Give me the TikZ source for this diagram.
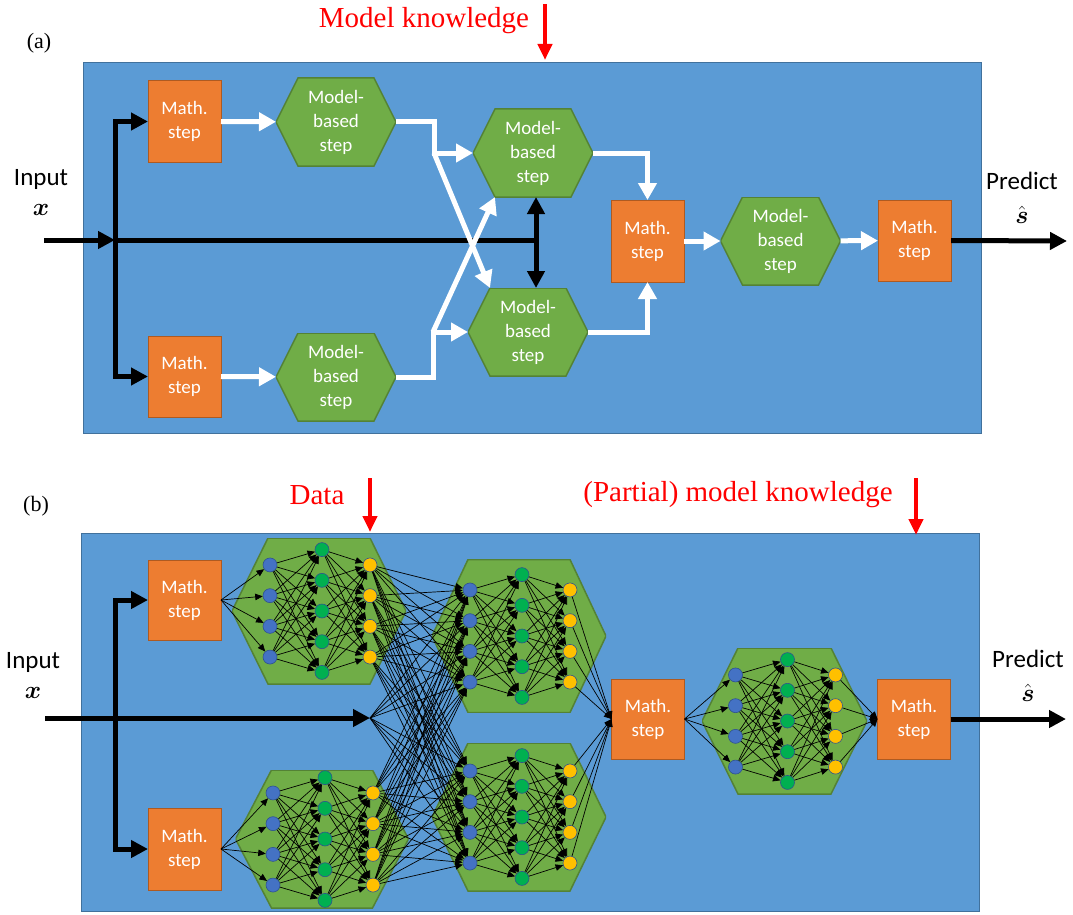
\documentclass[tikz,border=0pt]{standalone}
\usepackage{fontspec}
\setmainfont{Liberation Serif}
\newfontfamily\calibri{Carlito}
\usepackage{amsmath}
\usetikzlibrary{arrows.meta,calc}

\definecolor{panelblue}{HTML}{5B9BD5}
\definecolor{panelline}{HTML}{41719C}
\definecolor{mathorange}{HTML}{ED7D31}
\definecolor{mathline}{HTML}{AE5A21}
\definecolor{hexgreen}{HTML}{70AD47}
\definecolor{hexline}{HTML}{548235}
\definecolor{neuronblue}{HTML}{4472C4}
\definecolor{neurongreen}{HTML}{00B050}
\definecolor{neuronyellow}{HTML}{FFC000}
\definecolor{neuronline}{HTML}{2F528F}

\tikzset{
  panel/.style={fill=panelblue, draw=panelline, line width=0.8pt},
  mathstep/.style={rectangle, fill=mathorange, draw=mathline, line width=1pt,
    minimum width=73pt, minimum height=81pt, inner sep=0pt, outer sep=0pt,
    text=white, align=center, font=\calibri\fontsize{19}{24}\selectfont},
  hexfill/.style={path picture={
    \path[fill=hexgreen, draw=hexline, line width=1.5pt]
      ([xshift=#1]path picture bounding box.north west)
      -- ([xshift=-#1]path picture bounding box.north east)
      -- (path picture bounding box.east)
      -- ([xshift=-#1]path picture bounding box.south east)
      -- ([xshift=#1]path picture bounding box.south west)
      -- (path picture bounding box.west) -- cycle;}},
  modelstep/.style={hexfill=22pt, minimum width=120pt, minimum height=88pt,
    inner sep=0pt, outer sep=0pt, text=white, align=center,
    font=\calibri\fontsize{19}{24}\selectfont},
  nnhex/.style={hexfill=36pt, inner sep=0pt, outer sep=0pt},
  neuron/.style={circle, minimum size=14pt, inner sep=0pt, draw=neuronline, line width=0.6pt},
  nnedge/.style={-{Triangle[length=7.5pt,width=6.5pt]}, line width=0.7pt},
  blackarrow/.style={-{Triangle[length=17pt,width=17pt]}, line width=5pt},
  blackline/.style={line width=5pt},
  whitearrow/.style={white, -{Triangle[length=17pt,width=18pt]}, line width=5pt},
  redarrow/.style={red, -{Triangle[length=16pt,width=14pt]}, line width=4pt},
  redtext/.style={text=red, font=\fontsize{29}{34}\selectfont, inner sep=0pt},
  sidetext/.style={font=\calibri\fontsize{25}{30}\selectfont, inner sep=0pt},
  symbtext/.style={font=\fontsize{26}{30}\selectfont, inner sep=0pt},
  panellabel/.style={font=\fontsize{22}{26}\selectfont, inner sep=0pt}
}

% neural net block: name, x, y (centre of the neurons), width, height
\newcommand{\nnblock}[5]{
  \node[nnhex, minimum width=#4pt, minimum height=#5pt] (#1) at (#2,#3) {};
  \foreach \i in {1,...,4}
    \node[neuron, fill=neuronblue] (#1-b\i) at ({#2-49}, {#3+(\i-2.5)*30.7}) {};
  \foreach \i in {1,...,5}
    \node[neuron, fill=neurongreen] (#1-g\i) at ({#2+3}, {#3+(\i-3)*30.7}) {};
  \foreach \i in {1,...,4}
    \node[neuron, fill=neuronyellow] (#1-y\i) at ({#2+51}, {#3+(\i-2.5)*30.7}) {};
  \foreach \i in {1,...,4}
    \foreach \j in {1,...,5} {
      \draw[nnedge] (#1-b\i) -- (#1-g\j);
      \draw[nnedge] (#1-g\j) -- (#1-y\i);
    }
}

\begin{document}
\begin{tikzpicture}[x=1pt, y=-1pt]
  \useasboundingbox (0,0) rectangle (1073,915);

  %% (a) model-based
  \draw[panel] (83,62) rectangle (981,433);
  \node[panellabel] (labA) at (39,43) {(a)};
  \node[redtext] (knowA) at (424,21) {Model knowledge};
  \coordinate (knowAtop) at (545,4);
  \coordinate (knowAend) at (545,60);
  \draw[redarrow] (knowAtop) -- (knowAend);

  \node[sidetext] (inA) at (41,179) {Input};
  \node[symbtext] (xA) at (41,210) {$\boldsymbol{x}$};
  \node[sidetext] (predA) at (1022,181) {Predict};
  \node[symbtext] (sA) at (1022,215) {$\hat{\boldsymbol{s}}$};

  \node[mathstep] (msA1) at (184.5,121.5) {Math.\\step};
  \node[mathstep] (msA2) at (184.5,376.5) {Math.\\step};
  \node[modelstep] (mbA1) at (336,122) {Model-\\based\\step};
  \node[modelstep] (mbA2) at (336,377) {Model-\\based\\step};
  \node[modelstep] (mbA3) at (533,153) {Model-\\based\\step};
  \node[modelstep] (mbA4) at (528,332) {Model-\\based\\step};
  \node[mathstep, minimum height=82pt] (msA3) at (647.5,241) {Math.\\step};
  \node[modelstep] (mbA5) at (780.5,241) {Model-\\based\\step};
  \node[mathstep] (msA4) at (914.5,240.5) {Math.\\step};

  % input path
  \coordinate (startA) at (44,240);
  \coordinate (jA) at (115,240);
  \coordinate (endA) at (536,240);
  \coordinate (outA) at (1067,241);
  \draw[blackarrow] (startA) -- (jA);
  \draw[blackline] (jA) -- (endA);
  \draw[blackarrow] (jA) |- (msA1.west);
  \draw[blackarrow] (jA) |- (msA2.west);
  \draw[blackarrow] (endA) -- (endA |- mbA3.south);
  \draw[blackarrow] (endA) -- (endA |- mbA4.north);
  \draw[blackarrow] (msA4.east) -- (outA);

  % white flow
  \coordinate (bendA1) at (434,153);
  \coordinate (bendA2) at (433,332);
  \draw[whitearrow] (msA1) -- (mbA1);
  \draw[whitearrow] (msA2) -- (mbA2);
  \draw[whitearrow] (mbA1.east) -| (bendA1) -- (mbA3.west);
  \draw[whitearrow] (mbA2.east) -| (bendA2) -- (mbA4.west);
  \draw[whitearrow] (bendA1) -- ([xshift=22pt]mbA4.north west);
  \draw[whitearrow] (bendA2) -- ([xshift=22pt]mbA3.south west);
  \draw[whitearrow] (mbA3.east) -| (msA3.north);
  \draw[whitearrow] (mbA4.east) -| (msA3.south);
  \draw[whitearrow] (msA3) -- (mbA5);
  \draw[whitearrow] (mbA5) -- (msA4);

  %% (b) data-driven
  \draw[panel] (81,533) rectangle (979,911);
  \node[panellabel] (labB) at (36,506) {(b)};
  \node[redtext] (dataB) at (317,495) {Data};
  \node[redtext] (knowB) at (738,495) {(Partial) model knowledge};
  \coordinate (dataBtop) at (370,478);
  \coordinate (dataBend) at (370,532);
  \coordinate (knowBtop) at (916,478);
  \coordinate (knowBend) at (916,535);
  \draw[redarrow] (dataBtop) -- (dataBend);
  \draw[redarrow] (knowBtop) -- (knowBend);

  \node[sidetext] (inB) at (33,662) {Input};
  \node[symbtext] (xB) at (33,693) {$\boldsymbol{x}$};
  \node[sidetext] (predB) at (1028,659) {Predict};
  \node[symbtext] (sB) at (1028,693) {$\hat{\boldsymbol{s}}$};

  \node[mathstep, minimum height=80pt] (msB1) at (184.5,600) {Math.\\step};
  \node[mathstep, minimum height=82pt] (msB2) at (184.5,849) {Math.\\step};
  \node[mathstep, minimum height=80pt] (msB3) at (648,719) {Math.\\step};
  \node[mathstep, minimum height=80pt] (msB4) at (914,719) {Math.\\step};

  \coordinate (startB) at (45,718);
  \coordinate (jB) at (115,718);
  \coordinate (fanB) at (370,718);
  \coordinate (outB) at (1066,719);
  \draw[blackarrow] (startB) -- (fanB);
  \draw[blackarrow] (jB) |- (msB1.west);
  \draw[blackarrow] (jB) |- (msB2.west);
  \draw[blackarrow] (msB4.east) -- (outB);

  \nnblock{nnA}{319}{611}{174}{146}
  \nnblock{nnB}{322}{839}{173}{138}
  \nnblock{nnC}{519}{636}{174}{153}
  \nnblock{nnD}{519}{817}{174}{148}
  \nnblock{nnE}{784.5}{721}{165}{146}

  \foreach \j in {1,...,4} {
    \draw[nnedge] (msB1.east) -- (nnA-b\j);
    \draw[nnedge] (msB2.east) -- (nnB-b\j);
    \draw[nnedge] (msB3.east) -- (nnE-b\j);
    \draw[nnedge] (nnE-y\j) -- (msB4.west);
    \draw[nnedge] (nnC-y\j) -- (msB3.west);
    \draw[nnedge] (nnD-y\j) -- (msB3.west);
  }
  \foreach \t in {nnC,nnD}
    \foreach \j in {1,...,4} {
      \draw[nnedge] (fanB) -- (\t-b\j);
      \foreach \s in {nnA,nnB}
        \foreach \i in {1,...,4}
          \draw[nnedge] (\s-y\i) -- (\t-b\j);
    }
\end{tikzpicture}
\end{document}
